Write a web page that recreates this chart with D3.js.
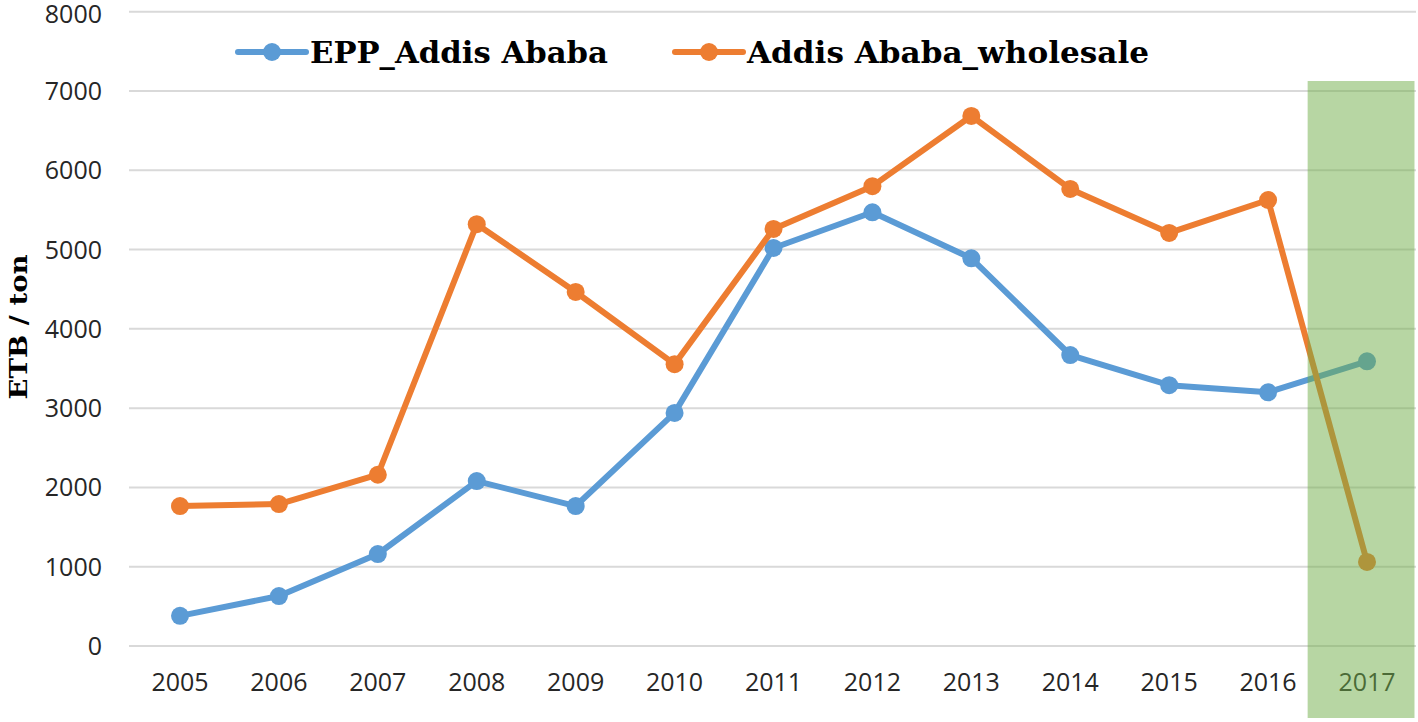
<!DOCTYPE html>
<html>
<head>
<meta charset="utf-8">
<script src="https://cdn.jsdelivr.net/npm/d3@7"></script>
<style>
  body { margin: 0; background: #fff; }
  svg { display: block; }
</style>
</head>
<body>
<div class="container"></div>
<script>
/* globals d3 */
const years = ['2005', '2006', '2007', '2008', '2009', '2010', '2011', '2012', '2013', '2014', '2015', '2016', '2017']
const eppAddis = [380, 630, 1160, 2080, 1765, 2940, 5020, 5470, 4890, 3670, 3290, 3200, 3590]
const addisWholesale = [1765, 1790, 2160, 5320, 4465, 3555, 5260, 5800, 6685, 5765, 5210, 5625, 1060]
const yTicks = [0, 1000, 2000, 3000, 4000, 5000, 6000, 7000, 8000]
const highlightYear = '2017'

const colors = { epp: '#5B9BD5', wholesale: '#ED7D31', highlight: '#70AD47' }

const width = 1418
const height = 722

const svg = d3.select('.container')
  .append('svg')
  .attr('width', width)
  .attr('height', height)

const x = d3.scalePoint().domain(years).range([180, 1367])
const y = d3.scaleLinear().domain([0, 8000]).range([646, 11.7])

// gridlines
svg.append('g')
  .selectAll('line')
  .data(yTicks)
  .join('line')
  .attr('x1', 129)
  .attr('x2', 1416)
  .attr('y1', d => y(d))
  .attr('y2', d => y(d))
  .attr('stroke', '#D9D9D9')
  .attr('stroke-width', 2)

// y tick labels
svg.append('g')
  .selectAll('text')
  .data(yTicks)
  .join('text')
  .attr('x', 102)
  .attr('y', d => Math.max(y(d), 14))
  .attr('dy', '0.36em')
  .attr('text-anchor', 'end')
  .attr('font-family', 'Open Sans, sans-serif')
  .attr('font-size', 25)
  .attr('fill', '#262626')
  .text(d => d)

// x tick labels
svg.append('g')
  .selectAll('text')
  .data(years)
  .join('text')
  .attr('x', d => x(d))
  .attr('y', 682)
  .attr('dy', '0.36em')
  .attr('text-anchor', 'middle')
  .attr('font-family', 'Open Sans, sans-serif')
  .attr('font-size', 25)
  .attr('fill', '#262626')
  .text(d => d)

// y axis title
svg.append('text')
  .attr('transform', 'translate(27,327) rotate(-90)')
  .attr('text-anchor', 'middle')
  .attr('font-family', 'DejaVu Serif, serif')
  .attr('font-weight', 'bold')
  .attr('font-size', 25)
  .attr('textLength', 145)
  .attr('lengthAdjust', 'spacingAndGlyphs')
  .attr('fill', '#000')
  .text('ETB / ton')

function drawSeries (values, color) {
  const pts = years.map((yr, i) => ({ year: yr, value: values[i] }))
  const line = d3.line()
    .x(d => x(d.year))
    .y(d => y(d.value))
  svg.append('path')
    .attr('d', line(pts))
    .attr('fill', 'none')
    .attr('stroke', color)
    .attr('stroke-width', 6)
    .attr('stroke-linejoin', 'round')
  svg.append('g')
    .selectAll('circle')
    .data(pts)
    .join('circle')
    .attr('cx', d => x(d.year))
    .attr('cy', d => y(d.value))
    .attr('r', 9)
    .attr('fill', color)
}

drawSeries(eppAddis, colors.epp)
drawSeries(addisWholesale, colors.wholesale)

// highlight band for the last year
const step = x.step()
svg.append('rect')
  .attr('x', x(highlightYear) - step * 0.6)
  .attr('y', 81)
  .attr('width', step * 1.08)
  .attr('height', 637)
  .attr('fill', colors.highlight)
  .attr('opacity', 0.5)

// legend
const legendItems = [
  { label: 'EPP_Addis Ababa', color: colors.epp, x: 238, tw: 298 },
  { label: 'Addis Ababa_wholesale', color: colors.wholesale, x: 675, tw: 402 }
]
const legend = svg.append('g')
legendItems.forEach(function (item) {
  const g = legend.append('g').attr('transform', 'translate(' + item.x + ',52)')
  g.append('line')
    .attr('x1', 0).attr('x2', 68)
    .attr('stroke', item.color)
    .attr('stroke-width', 6)
    .attr('stroke-linecap', 'round')
  g.append('circle')
    .attr('cx', 34).attr('r', 9)
    .attr('fill', item.color)
  g.append('text')
    .attr('x', 72)
    .attr('dy', '0.36em')
    .attr('font-family', 'DejaVu Serif, serif')
    .attr('font-weight', 'bold')
    .attr('font-size', 30)
    .attr('textLength', item.tw)
    .attr('lengthAdjust', 'spacingAndGlyphs')
    .attr('fill', '#000')
    .text(item.label)
})
</script>
</body>
</html>
